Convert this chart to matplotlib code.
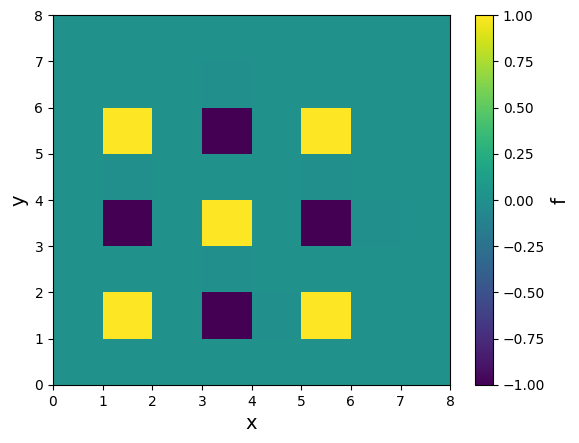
import numpy as np
import matplotlib
matplotlib.use('Agg')
import matplotlib.pyplot as plt

# grid edges
x_edges = np.arange(0, 9)
y_edges = np.arange(0, 9)

# cell values, row index = y cell (bottom to top)
f = np.array([
    [0, 0, 0, 0, 0, 0, 0, 0],
    [0, 1, 0, -1, -0.004, 1, 0, 0],
    [0, 0, 0, -0.006, 0, 0, 0, 0],
    [0, -1, 0, 1, 0, -1, -0.004, 0],
    [0, -0.005, 0, 0, 0, -0.005, 0, 0],
    [0, 1, 0, -1, 0, 1, 0, 0],
    [0, 0, 0, -0.006, 0, 0, 0, 0],
    [0, 0, 0, 0, 0, 0, 0, 0],
])

fig = plt.figure(figsize=(5.79, 4.43), dpi=100)
ax = fig.add_axes([0.0915, 0.131, 0.686, 0.835])
cax = fig.add_axes([0.8204, 0.131, 0.031, 0.835])

mesh = ax.pcolormesh(x_edges, y_edges, f, cmap='viridis', vmin=-1, vmax=1)
ax.set_xlabel('x', fontsize=14)
ax.set_ylabel('y', fontsize=14)

cb = fig.colorbar(mesh, cax=cax)
cb.set_label('f', fontsize=14)

fig.savefig('out.png', dpi=100)
